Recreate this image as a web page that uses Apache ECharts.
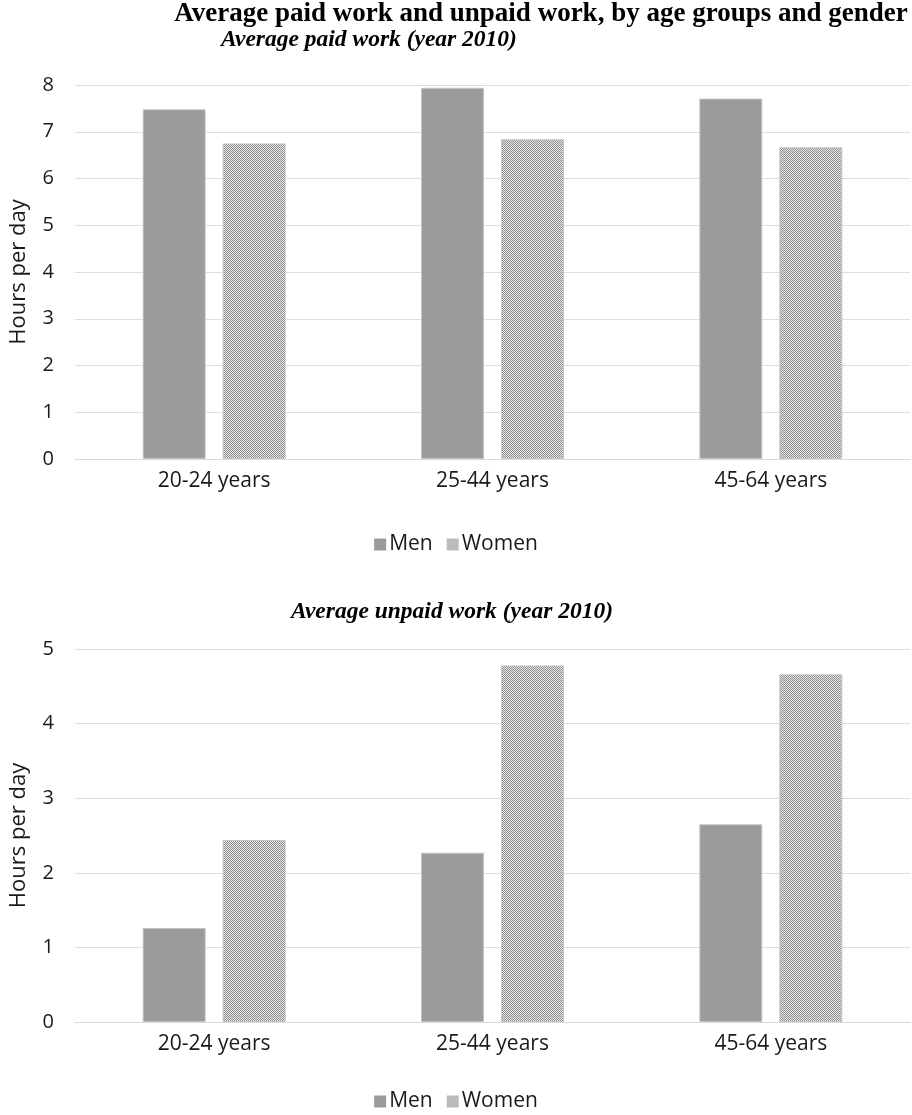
<!DOCTYPE html>
<html>
<head>
<meta charset="utf-8">
<script src="https://cdn.jsdelivr.net/npm/echarts@6/dist/echarts.min.js"></script>
<style>
  html, body { margin: 0; padding: 0; background: #ffffff; }
  #chart { width: 912px; height: 1115px; }
</style>
</head>
<body>
<div id="chart"></div>
<script>
// Age groups on the category axis
const categories = ['20-24 years', '25-44 years', '45-64 years'];
const seriesNames = ['Men', 'Women'];

// Hours per day, paid work (year 2010)
const paidMen = [7.48, 7.94, 7.71];
const paidWomen = [6.75, 6.84, 6.67];

// Hours per day, unpaid work (year 2010)
const unpaidMen = [1.26, 2.27, 2.65];
const unpaidWomen = [2.44, 4.78, 4.66];

// Value-axis ticks
const paidTicks = [0, 1, 2, 3, 4, 5, 6, 7, 8];
const unpaidTicks = [0, 1, 2, 3, 4, 5];

const mainTitle = 'Average paid work and unpaid work, by age groups and gender';
const paidTitle = 'Average paid work (year 2010)';
const unpaidTitle = 'Average unpaid work (year 2010)';
const axisName = 'Hours per day';

// Fine checkerboard fill for the Women bars
function checkerCanvas() {
  const c = document.createElement('canvas');
  c.width = 2; c.height = 2;
  const ctx = c.getContext('2d');
  ctx.fillStyle = '#e8e8e8';
  ctx.fillRect(0, 0, 2, 2);
  ctx.fillStyle = '#8e8e8e';
  ctx.fillRect(0, 0, 1, 1);
  ctx.fillRect(1, 1, 1, 1);
  return c;
}
const checker = { image: checkerCanvas(), repeat: 'repeat' };
const menColor = '#9b9b9b';

const labelFont = '"Open Sans", "Noto Sans", sans-serif';
const serifFont = '"Liberation Serif", "DejaVu Serif", serif';
const textColor = '#1a1a1a';

const grids = [
  { left: 73, right: 2, top: 85, height: 374 },
  { left: 73, right: 2, top: 649, height: 373 }
];

function xAxis(gi) {
  return {
    type: 'category',
    gridIndex: gi,
    data: categories,
    axisLine: { lineStyle: { color: '#d9d9d9', width: 1 } },
    axisTick: { show: false },
    axisLabel: { color: textColor, fontSize: 21, fontFamily: labelFont, margin: 12 }
  };
}

function yAxis(gi, ticks) {
  return {
    type: 'value',
    gridIndex: gi,
    min: ticks[0],
    max: ticks[ticks.length - 1],
    interval: ticks[1] - ticks[0],
    name: axisName,
    nameLocation: 'middle',
    nameGap: 45,
    nameTextStyle: { color: textColor, fontSize: 22, fontFamily: labelFont },
    axisLine: { show: false },
    axisTick: { show: false },
    axisLabel: { color: textColor, fontSize: 20, fontFamily: labelFont, margin: 21 },
    splitLine: { lineStyle: { color: '#dedede', width: 1 } }
  };
}

function bars(gi, name, data, color) {
  return {
    type: 'bar',
    name: name,
    xAxisIndex: gi,
    yAxisIndex: gi,
    data: data,
    barWidth: 63,
    barGap: '27%',
    itemStyle: { color: color, borderColor: '#c4c4c4', borderWidth: 1 }
  };
}

function legend(top) {
  return {
    top: top,
    left: 'center',
    data: seriesNames,
    itemWidth: 12,
    itemHeight: 12,
    itemGap: 14,
    icon: 'rect',
    itemStyle: { borderWidth: 0 },
    textStyle: { color: textColor, fontSize: 21, fontFamily: labelFont, padding: [0, 0, 0, -2] }
  };
}

const chart = echarts.init(document.getElementById('chart'));
chart.setOption({
  animation: false,
  backgroundColor: '#ffffff',
  grid: grids,
  xAxis: [xAxis(0), xAxis(1)],
  yAxis: [yAxis(0, paidTicks), yAxis(1, unpaidTicks)],
  legend: [legend(529), legend(1086)],
  series: [
    bars(0, seriesNames[0], paidMen, menColor),
    bars(0, seriesNames[1], paidWomen, checker),
    bars(1, seriesNames[0], unpaidMen, menColor),
    bars(1, seriesNames[1], unpaidWomen, checker)
  ],
  graphic: [
    {
      type: 'text', x: 541, y: 14,
      style: { text: mainTitle, align: 'center', verticalAlign: 'middle',
               font: 'bold 27px ' + serifFont, fill: '#000000' }
    },
    {
      type: 'text', x: 369, y: 40,
      style: { text: paidTitle, align: 'center', verticalAlign: 'middle',
               font: 'italic bold 23.5px ' + serifFont, fill: '#000000' }
    },
    {
      type: 'text', x: 452, y: 612,
      style: { text: unpaidTitle, align: 'center', verticalAlign: 'middle',
               font: 'italic bold 23.5px ' + serifFont, fill: '#000000' }
    }
  ]
});
</script>
</body>
</html>
